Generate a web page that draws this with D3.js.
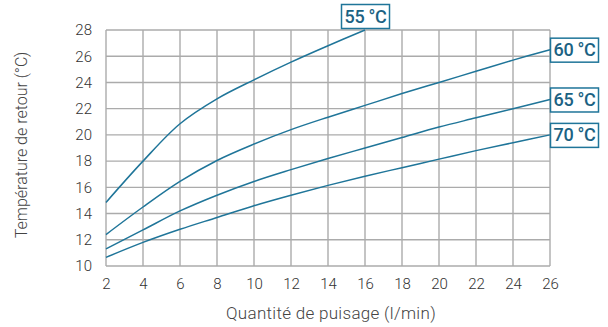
<!DOCTYPE html>
<html><head><meta charset="utf-8">
<script src="https://cdn.jsdelivr.net/npm/d3@7"></script>
<style>
body{margin:0;background:#fff;}
svg{display:block;font-family:Roboto,"DejaVu Sans",sans-serif;}
</style></head>
<body><svg id="c" width="608" height="327"></svg>
<script>
const xTicks = [2,4,6,8,10,12,14,16,18,20,22,24,26];
const yTicks = [10,12,14,16,18,20,22,24,26,28];
const flow55 = [2,4,6,8,10,12,14,16];
const temp55 = [14.85,18.0,20.85,22.75,24.2,25.55,26.8,28.0];
const flow60 = [2,4,6,8,10,12,14,16,18,20,22,24,26];
const temp60 = [12.4,14.5,16.45,18.05,19.3,20.4,21.35,22.25,23.15,24.0,24.85,25.7,26.5];
const flow65 = [2,4,6,8,10,12,14,16,18,20,22,24,26];
const temp65 = [11.3,12.75,14.2,15.4,16.45,17.35,18.2,19.0,19.8,20.6,21.3,22.0,22.7];
const flow70 = [2,4,6,8,10,12,14,16,18,20,22,24,26];
const temp70 = [10.66,11.8,12.8,13.7,14.6,15.4,16.15,16.85,17.5,18.15,18.8,19.4,20.0];
const seriesLabels = ["55 °C","60 °C","65 °C","70 °C"];
const xTitle = "Quantité de puisage (l/min)";
const yTitle = "Température de retour (°C)";

const svg = d3.select("#c");
const x = d3.scaleLinear().domain([2,26]).range([106,550]);
const y = d3.scaleLinear().domain([10,28]).range([266,30]);
const gridCol = "#ababab", teal = "#1f7599", txtTeal = "#1b6283";

// grid
svg.append("g").selectAll("line").data(xTicks).join("line")
  .attr("x1",d=>x(d)).attr("x2",d=>x(d)).attr("y1",y(10)).attr("y2",y(28))
  .attr("stroke",gridCol).attr("stroke-width",1.4);
svg.append("g").selectAll("line").data(yTicks).join("line")
  .attr("y1",d=>y(d)).attr("y2",d=>y(d)).attr("x1",x(2)).attr("x2",x(26))
  .attr("stroke",gridCol).attr("stroke-width",1.4);

// axes labels
const xa = svg.append("g").attr("transform",`translate(0,${y(10)})`)
  .call(d3.axisBottom(x).tickValues(xTicks).tickSize(0).tickPadding(12));
const ya = svg.append("g").attr("transform",`translate(${x(2)},0)`)
  .call(d3.axisLeft(y).tickValues(yTicks).tickSize(0).tickPadding(14));
[xa,ya].forEach(a=>{
  a.select(".domain").remove();
  a.selectAll("text").attr("font-size",15).attr("fill","#333").attr("font-family","Roboto, sans-serif").attr("font-weight",300);
});

svg.append("text").attr("x",331).attr("y",319).attr("text-anchor","middle")
  .attr("font-size",17).attr("font-weight",300).attr("fill","#444").attr("letter-spacing",0.3).text(xTitle);
svg.append("text").attr("transform","translate(27,145) rotate(-90)").attr("text-anchor","middle")
  .attr("font-size",16).attr("font-weight",300).attr("fill","#444").text(yTitle);

// curves
const line = d3.line().x(d=>x(d[0])).y(d=>y(d[1])).curve(d3.curveCatmullRom.alpha(0.5));
const series = [[flow55,temp55],[flow60,temp60],[flow65,temp65],[flow70,temp70]];
series.forEach(([f,t])=>{
  svg.append("path").datum(f.map((v,i)=>[v,t[i]])).attr("d",line)
    .attr("fill","none").attr("stroke",teal).attr("stroke-width",1.5);
});

// labels
series.forEach(([f,t],i)=>{
  const ex = x(f[f.length-1]), ey = y(t[t.length-1]);
  let bx, by;
  const w = 48, h = 24;
  if (i===0) { bx = ex - w/2; by = ey - h - 2; }
  else { bx = ex; by = ey - h/2; }
  svg.append("rect").attr("x",bx+0.5).attr("y",by+0.5).attr("width",w).attr("height",h)
    .attr("fill","#fff").attr("stroke",teal).attr("stroke-width",1.5);
  svg.append("text").attr("x",bx+w/2+0.5).attr("y",by+h/2+6.5).attr("text-anchor","middle")
    .attr("font-size",18).attr("font-weight",500).attr("fill",txtTeal)
    .attr("font-family","Roboto, sans-serif").attr("letter-spacing",-0.3).text(seriesLabels[i]);
});
</script></body></html>
